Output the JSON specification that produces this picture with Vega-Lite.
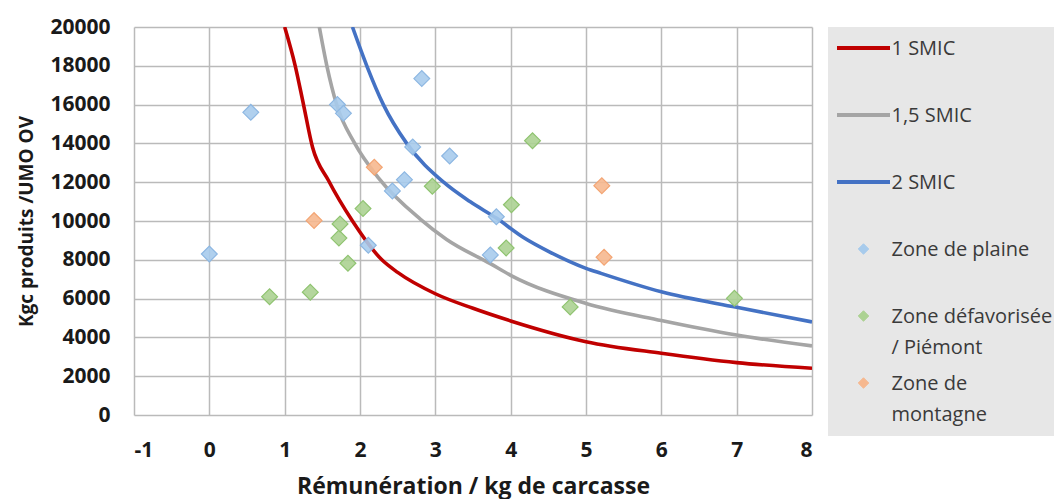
{
  "$schema": "https://vega.github.io/schema/vega-lite/v6.json",
  "width": 678,
  "height": 388,
  "autosize": {"type": "none"},
  "padding": {"left": 134, "top": 27, "right": 242, "bottom": 84},
  "background": "white",
  "datasets": {
    "courbes": [
      {"serie": "1 SMIC", "x": 1.0, "y": 20000},
      {"serie": "1 SMIC", "x": 1.14, "y": 18000},
      {"serie": "1 SMIC", "x": 1.25, "y": 16000},
      {"serie": "1 SMIC", "x": 1.37, "y": 13800},
      {"serie": "1 SMIC", "x": 1.58, "y": 12100},
      {"serie": "1 SMIC", "x": 1.9, "y": 10000},
      {"serie": "1 SMIC", "x": 2.29, "y": 8000},
      {"serie": "1 SMIC", "x": 2.5, "y": 7350},
      {"serie": "1 SMIC", "x": 3.0, "y": 6250},
      {"serie": "1 SMIC", "x": 3.5, "y": 5500},
      {"serie": "1 SMIC", "x": 4.0, "y": 4850},
      {"serie": "1 SMIC", "x": 5.0, "y": 3780},
      {"serie": "1 SMIC", "x": 6.0, "y": 3180},
      {"serie": "1 SMIC", "x": 7.0, "y": 2700},
      {"serie": "1 SMIC", "x": 8.0, "y": 2410},
      {"serie": "1,5 SMIC", "x": 1.46, "y": 20000},
      {"serie": "1,5 SMIC", "x": 1.56, "y": 18000},
      {"serie": "1,5 SMIC", "x": 1.69, "y": 16000},
      {"serie": "1,5 SMIC", "x": 1.93, "y": 14000},
      {"serie": "1,5 SMIC", "x": 2.25, "y": 12200},
      {"serie": "1,5 SMIC", "x": 2.8, "y": 10100},
      {"serie": "1,5 SMIC", "x": 3.15, "y": 9050},
      {"serie": "1,5 SMIC", "x": 3.73, "y": 7800},
      {"serie": "1,5 SMIC", "x": 4.0, "y": 7200},
      {"serie": "1,5 SMIC", "x": 5.0, "y": 5750},
      {"serie": "1,5 SMIC", "x": 6.0, "y": 4870},
      {"serie": "1,5 SMIC", "x": 7.0, "y": 4120},
      {"serie": "1,5 SMIC", "x": 8.0, "y": 3560},
      {"serie": "2 SMIC", "x": 1.9, "y": 20000},
      {"serie": "2 SMIC", "x": 2.09, "y": 18000},
      {"serie": "2 SMIC", "x": 2.31, "y": 16000},
      {"serie": "2 SMIC", "x": 2.62, "y": 14000},
      {"serie": "2 SMIC", "x": 3.11, "y": 12000},
      {"serie": "2 SMIC", "x": 3.46, "y": 11000},
      {"serie": "2 SMIC", "x": 3.81, "y": 10150},
      {"serie": "2 SMIC", "x": 4.17, "y": 9150},
      {"serie": "2 SMIC", "x": 4.52, "y": 8400},
      {"serie": "2 SMIC", "x": 5.0, "y": 7560},
      {"serie": "2 SMIC", "x": 5.2, "y": 7300},
      {"serie": "2 SMIC", "x": 6.0, "y": 6350},
      {"serie": "2 SMIC", "x": 7.0, "y": 5550},
      {"serie": "2 SMIC", "x": 8.0, "y": 4800}
    ],
    "exploitations": [
      {"serie": "Zone de plaine", "x": 0.0, "y": 8300},
      {"serie": "Zone de plaine", "x": 0.55, "y": 15600},
      {"serie": "Zone de plaine", "x": 1.7, "y": 16000},
      {"serie": "Zone de plaine", "x": 1.78, "y": 15550},
      {"serie": "Zone de plaine", "x": 2.11, "y": 8750},
      {"serie": "Zone de plaine", "x": 2.43, "y": 11550},
      {"serie": "Zone de plaine", "x": 2.59, "y": 12130},
      {"serie": "Zone de plaine", "x": 2.7, "y": 13820},
      {"serie": "Zone de plaine", "x": 2.82, "y": 17340},
      {"serie": "Zone de plaine", "x": 3.19, "y": 13350},
      {"serie": "Zone de plaine", "x": 3.81, "y": 10220},
      {"serie": "Zone de plaine", "x": 3.73, "y": 8250},
      {"serie": "Zone défavorisée / Piémont", "x": 0.8, "y": 6100},
      {"serie": "Zone défavorisée / Piémont", "x": 1.34, "y": 6330},
      {"serie": "Zone défavorisée / Piémont", "x": 1.84, "y": 7820},
      {"serie": "Zone défavorisée / Piémont", "x": 1.72, "y": 9120},
      {"serie": "Zone défavorisée / Piémont", "x": 1.735, "y": 9850},
      {"serie": "Zone défavorisée / Piémont", "x": 2.04, "y": 10640},
      {"serie": "Zone défavorisée / Piémont", "x": 2.96, "y": 11790},
      {"serie": "Zone défavorisée / Piémont", "x": 4.29, "y": 14140},
      {"serie": "Zone défavorisée / Piémont", "x": 4.01, "y": 10840},
      {"serie": "Zone défavorisée / Piémont", "x": 3.94, "y": 8610},
      {"serie": "Zone défavorisée / Piémont", "x": 4.79, "y": 5570},
      {"serie": "Zone défavorisée / Piémont", "x": 6.97, "y": 6015},
      {"serie": "Zone de montagne", "x": 1.39, "y": 10020},
      {"serie": "Zone de montagne", "x": 2.19, "y": 12770},
      {"serie": "Zone de montagne", "x": 5.21, "y": 11820},
      {"serie": "Zone de montagne", "x": 5.24, "y": 8130}
    ]
  },
  "encoding": {
    "x": {
      "field": "x", "type": "quantitative",
      "scale": {"domain": [-1, 8], "nice": false, "zero": false},
      "axis": {
        "values": [-1, 0, 1, 2, 3, 4, 5, 6, 7, 8],
        "labelExpr": "'' + datum.value",
        "title": "Rémunération / kg de carcasse",
        "titleFontSize": 23,
        "labelPadding": 24,
        "titlePadding": 15
      }
    },
    "y": {
      "field": "y", "type": "quantitative",
      "scale": {"domain": [0, 20000], "nice": false},
      "axis": {
        "values": [0, 2000, 4000, 6000, 8000, 10000, 12000, 14000, 16000, 18000, 20000],
        "labelExpr": "'' + datum.value",
        "title": "Kgc produits /UMO OV",
        "titleFontSize": 19,
        "labelPadding": 24,
        "titlePadding": 13
      }
    }
  },
  "layer": [
    {
      "data": {"name": "courbes"},
      "mark": {"type": "line", "interpolate": "monotone", "strokeWidth": 3.6, "clip": true},
      "encoding": {
        "color": {
          "field": "serie", "type": "nominal",
          "scale": {
            "domain": ["1 SMIC", "1,5 SMIC", "2 SMIC", "Zone de plaine", "Zone défavorisée / Piémont", "Zone de montagne"],
            "range": ["#c00000", "#a5a5a5", "#4472c4", "#a7cbec", "#acd292", "#f6b88f"]
          },
          "legend": {
            "title": null,
            "labelExpr": "datum.label == 'Zone défavorisée / Piémont' ? ['Zone défavorisée', '/ Piémont'] : datum.label == 'Zone de montagne' ? ['Zone de', 'montagne'] : [datum.label, '']",
            "encode": {
              "symbols": {
                "update": {
                  "shape": {"signal": "indexof(['1 SMIC','1,5 SMIC','2 SMIC'], datum.value) >= 0 ? 'stroke' : 'diamond'"},
                  "size": {"signal": "indexof(['1 SMIC','1,5 SMIC','2 SMIC'], datum.value) >= 0 ? 2809 : 110"},
                  "strokeWidth": {"signal": "indexof(['1 SMIC','1,5 SMIC','2 SMIC'], datum.value) >= 0 ? 4 : 1"},
                  "fill": {"signal": "indexof(['1 SMIC','1,5 SMIC','2 SMIC'], datum.value) >= 0 ? 'transparent' : scale('color', datum.value)"},
                  "stroke": {"signal": "scale('color', datum.value)"},
                  "opacity": {"value": 1}
                }
              },
              "labels": {
                "update": {
                  "dy": {"value": 7},
                  "lineHeight": {"value": 31}
                }
              }
            }
          }
        }
      }
    },
    {
      "data": {"name": "exploitations"},
      "mark": {"type": "point", "shape": "diamond", "filled": true, "size": 250, "opacity": 1, "fillOpacity": 0.9, "strokeWidth": 1.2},
      "encoding": {
        "color": {"field": "serie", "type": "nominal"},
        "stroke": {
          "field": "serie", "type": "nominal",
          "scale": {"domain": ["Zone de plaine", "Zone défavorisée / Piémont", "Zone de montagne"], "range": ["#8db7e2", "#8fc370", "#f3a574"]},
          "legend": null
        }
      }
    }
  ],
  "config": {
    "view": {"stroke": null},
    "axis": {
      "grid": true,
      "gridColor": "#bababa",
      "gridWidth": 1.5,
      "domain": false,
      "ticks": false,
      "labelOverlap": false,
      "labelFont": "Open Sans",
      "labelFontWeight": "bold",
      "labelFontSize": 21,
      "labelColor": "#1a1a1a",
      "titleFont": "Open Sans",
      "titleFontWeight": "bold",
      "titleColor": "#1a1a1a"
    },
    "legend": {
      "orient": "right",
      "offset": 16,
      "padding": 11,
      "fillColor": "#e7e7e7",
      "rowPadding": 15,
      "symbolSize": 2809,
      "symbolOffset": 14.5,
      "labelOffset": 18,
      "labelFont": "Open Sans",
      "labelFontSize": 20,
      "labelColor": "#3a3a3a",
      "labelLimit": 400,
      "labelBaseline": "alphabetic"
    }
  }
}
